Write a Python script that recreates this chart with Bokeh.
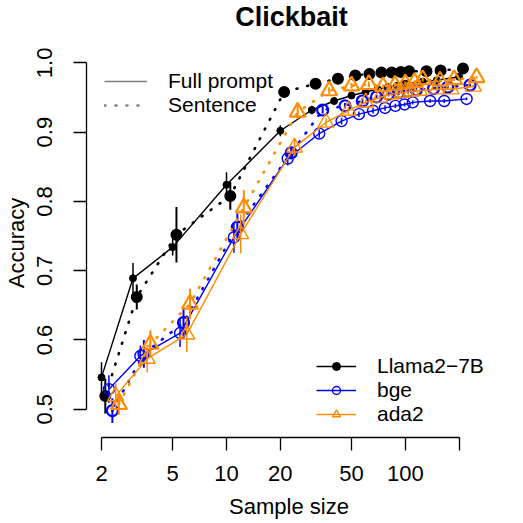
import math
from bokeh.plotting import figure
from bokeh.models import (Range1d, FixedTicker, CustomJSTickFormatter, PrintfTickFormatter,
                          Legend, LegendItem, ColumnDataSource, Label)
from bokeh.embed import file_html
from bokeh.resources import INLINE

# ---------------- data ----------------
title_text = "Clickbait"
x_label = "Sample size"
y_label = "Accuracy"

sample_size = [2, 3, 5, 10, 20, 30, 40, 50, 60, 70, 80, 90, 100, 125, 150, 200]

models = ["Llama2-7B", "bge", "ada2"]
prompt_types = ["Full prompt", "Sentence"]

llama_full = [0.546, 0.689, 0.734, 0.824, 0.902, 0.932, 0.945, 0.953, 0.958, 0.962, 0.965, 0.967, 0.970, 0.973, 0.975, 0.980]
llama_full_err = [0.022, 0.022, 0.012, 0.018, 0.008, 0.006, 0.005, 0.004, 0.004, 0.003, 0.003, 0.003, 0.003, 0.003, 0.002, 0.002]
llama_sent = [0.519, 0.662, 0.752, 0.808, 0.958, 0.970, 0.977, 0.982, 0.984, 0.986, 0.986, 0.987, 0.988, 0.988, 0.989, 0.992]
llama_sent_err = [0.025, 0.018, 0.040, 0.020, 0.006, 0.005, 0.004, 0.004, 0.003, 0.003, 0.003, 0.003, 0.002, 0.002, 0.002, 0.002]

bge_full = [0.529, 0.577, 0.610, 0.748, 0.862, 0.898, 0.916, 0.926, 0.931, 0.935, 0.938, 0.940, 0.943, 0.945, 0.945, 0.948]
bge_full_err = [0.020, 0.015, 0.020, 0.022, 0.010, 0.006, 0.005, 0.004, 0.004, 0.004, 0.003, 0.003, 0.003, 0.003, 0.003, 0.002]
bge_sent = [0.498, 0.580, 0.625, 0.763, 0.870, 0.932, 0.938, 0.945, 0.951, 0.955, 0.957, 0.959, 0.961, 0.963, 0.965, 0.968]
bge_sent_err = [0.018, 0.020, 0.022, 0.020, 0.008, 0.005, 0.004, 0.004, 0.003, 0.003, 0.003, 0.003, 0.003, 0.002, 0.002, 0.002]

ada2_full = [0.519, 0.573, 0.608, 0.753, 0.878, 0.914, 0.931, 0.943, 0.950, 0.955, 0.957, 0.959, 0.960, 0.962, 0.962, 0.966]
ada2_full_err = [0.020, 0.020, 0.025, 0.028, 0.012, 0.006, 0.005, 0.004, 0.004, 0.003, 0.003, 0.003, 0.003, 0.003, 0.003, 0.002]
ada2_sent = [0.507, 0.594, 0.652, 0.791, 0.929, 0.960, 0.967, 0.969, 0.966, 0.968, 0.970, 0.972, 0.976, 0.974, 0.976, 0.979]
ada2_sent_err = [0.015, 0.020, 0.022, 0.025, 0.010, 0.005, 0.004, 0.004, 0.003, 0.003, 0.003, 0.003, 0.003, 0.002, 0.002, 0.002]

x_ticks = [2, 5, 10, 20, 50, 100, 200]
x_tick_labels = ["2", "5", "10", "20", "50", "100", ""]
y_ticks = [0.5, 0.6, 0.7, 0.8, 0.9, 1.0]
y_lim = (0.48, 1.0)

# ---------------- styles ----------------
FONT = "Liberation Sans"
colors = {"Llama2-7B": "black", "bge": "#0000FF", "ada2": "#FF8C00"}
markers = {"Llama2-7B": "circle", "bge": "circle", "ada2": "triangle"}
series = {
    ("Llama2-7B", "Full prompt"): (llama_full, llama_full_err),
    ("Llama2-7B", "Sentence"): (llama_sent, llama_sent_err),
    ("bge", "Full prompt"): (bge_full, bge_full_err),
    ("bge", "Sentence"): (bge_sent, bge_sent_err),
    ("ada2", "Full prompt"): (ada2_full, ada2_full_err),
    ("ada2", "Sentence"): (ada2_sent, ada2_sent_err),
}
# horizontal dodge (multiplicative on the log axis) so series don't overlap
dodge = {
    ("Llama2-7B", "Full prompt"): 1.00, ("Llama2-7B", "Sentence"): 1.05,
    ("bge", "Full prompt"): 1.10, ("bge", "Sentence"): 1.15,
    ("ada2", "Full prompt"): 1.20, ("ada2", "Sentence"): 1.25,
}

# R-like 4% range extension
xs_all = [s * dodge[k] for k in series for s in sample_size]
lx0, lx1 = math.log10(min(xs_all)), math.log10(max(xs_all))
ext = 0.04 * (lx1 - lx0)
x_range = Range1d(10 ** (lx0 - ext), 10 ** (lx1 + ext))
yext = 0.04 * (y_lim[1] - y_lim[0])
y_range = Range1d(y_lim[0] - yext, y_lim[1] + yext)

FW, FH = 405, 389
p = figure(frame_width=FW, frame_height=FH, x_axis_type="log",
           x_range=x_range, y_range=y_range,
           output_backend="svg", toolbar_location=None,
           min_border_left=85, min_border_right=25, min_border_top=48, min_border_bottom=50)
p.outline_line_color = None
p.grid.visible = False
p.background_fill_color = "white"

# title as a label in the panel above the frame
p.add_layout(Label(x=FW / 2 + 2.5, y=32, x_units="screen", y_units="screen",
                   text=title_text, text_align="center", text_baseline="alphabetic",
                   text_font=FONT, text_font_size="27px", text_font_style="bold",
                   text_color="black"), "above")

xa = p.xaxis[0]
ya = p.yaxis[0]
xa.ticker = FixedTicker(ticks=x_ticks)
xa.formatter = CustomJSTickFormatter(args=dict(tvals=x_ticks, tlabels=x_tick_labels),
                                     code="const i = tvals.indexOf(tick); return i < 0 ? '' : tlabels[i];")
ya.ticker = FixedTicker(ticks=y_ticks)
ya.formatter = PrintfTickFormatter(format="%.1f")
xa.bounds = (x_ticks[0], x_ticks[-1])
ya.bounds = (y_ticks[0], y_ticks[-1])
xa.axis_label = x_label
ya.axis_label = y_label
ya.major_label_orientation = "vertical"
for ax in (xa, ya):
    ax.axis_line_width = 1.3
    ax.axis_line_color = "black"
    ax.major_tick_line_width = 1.3
    ax.major_tick_line_color = "black"
    ax.major_tick_out = 13
    ax.major_tick_in = 0
    ax.minor_tick_line_color = None
    ax.major_label_text_font = FONT
    ax.major_label_text_font_size = "22px"
    ax.major_label_text_color = "black"
    ax.axis_label_text_font = FONT
    ax.axis_label_text_font_size = "22px"
    ax.axis_label_text_font_style = "normal"
    ax.axis_label_text_color = "black"
xa.major_label_standoff = 15
xa.axis_label_standoff = 10
ya.major_label_standoff = 21
ya.axis_label_standoff = 6

# ---------------- series ----------------
full_renderers = {}
for m in models:
    for pt in prompt_types:
        yv, ev = series[(m, pt)]
        f = dodge[(m, pt)]
        xv = [s * f for s in sample_size]
        src = ColumnDataSource(dict(x=xv, y=yv, lo=[a - b for a, b in zip(yv, ev)],
                                    hi=[a + b for a, b in zip(yv, ev)]))
        c = colors[m]
        sent = pt == "Sentence"
        if sent:
            rl = p.line("x", "y", source=src, line_color=c, line_width=2.6,
                        line_dash="1 10", line_cap="round")
        else:
            rl = p.line("x", "y", source=src, line_color=c, line_width=1.4)
        p.segment(x0="x", y0="lo", x1="x", y1="hi", source=src, line_color=c,
                  line_width=2.0 if sent else 1.5)
        if m == "Llama2-7B":
            rs = p.scatter("x", "y", source=src, marker="circle", size=10.5 if sent else 7,
                           fill_color=c, line_color=c, line_width=1.5 if sent else 1)
        elif markers[m] == "circle":
            rs = p.scatter("x", "y", source=src, marker="circle", size=11,
                           fill_alpha=0, line_color=c, line_width=2.2 if sent else 1.4)
        else:
            rs = p.scatter("x", "y", source=src, marker="triangle", size=16,
                           fill_alpha=0, line_color=c, line_width=2.2 if sent else 1.4)
        if not sent:
            full_renderers[m] = [rl, rs]

# ---------------- legends ----------------
gray = "#808080"
nan = float("nan")
r_full = p.line([nan], [nan], line_color=gray, line_width=1.3)
r_sent = p.line([nan], [nan], line_color=gray, line_width=2.6, line_dash="1 10", line_cap="round")
leg1 = Legend(items=[LegendItem(label=prompt_types[0], renderers=[r_full]),
                     LegendItem(label=prompt_types[1], renderers=[r_sent])],
              location=(18, 320), orientation="vertical")

model_items = [LegendItem(label=m.replace("-", "\u2212"), renderers=full_renderers[m]) for m in models]
leg2 = Legend(items=model_items, location=(230, 11), orientation="vertical")

for lg, gw in ((leg1, 43), (leg2, 40)):
    lg.glyph_width = gw
    lg.glyph_height = 20
    lg.label_height = 20
    lg.label_standoff = 21
    lg.spacing = -2
    lg.padding = 0
    lg.margin = 0
    lg.border_line_color = None
    lg.background_fill_alpha = 0
    lg.label_text_font = FONT
    lg.label_text_font_size = "21px"
    lg.label_text_color = "black"
    p.add_layout(lg, "center")

open("out.html", "w").write(file_html(p, INLINE))
